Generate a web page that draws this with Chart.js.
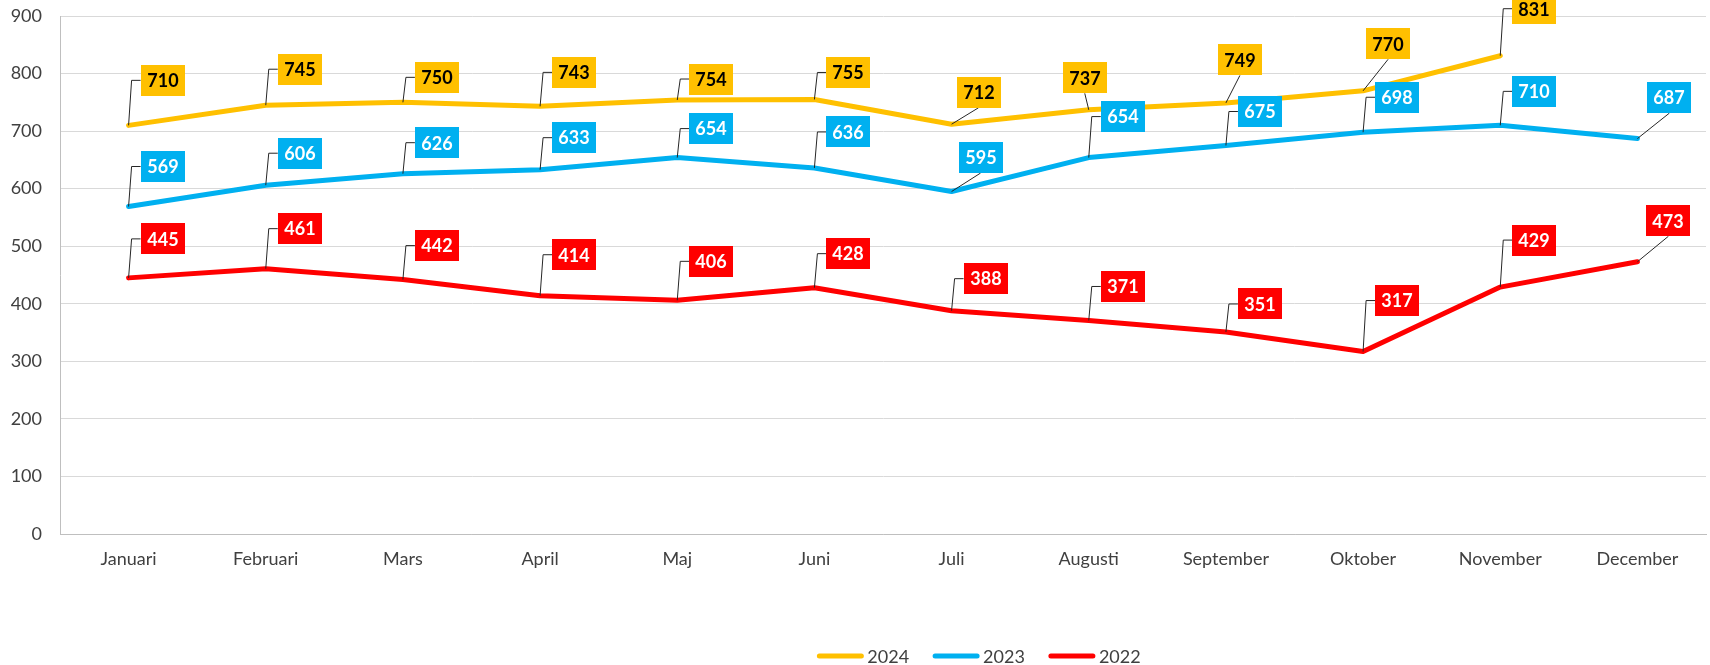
<!DOCTYPE html>
<html>
<head>
<meta charset="utf-8">
<script src="https://cdn.jsdelivr.net/npm/chart.js@4.4.0/dist/chart.umd.min.js"></script>
<style>
    html, body { margin: 0; padding: 0; background: #fff; }
    canvas { display: block; }
</style>
</head>
<body>
<canvas id="chart" width="1710" height="665"></canvas>
<script>
// Chart data
const months = ['Januari', 'Februari', 'Mars', 'April', 'Maj', 'Juni',
    'Juli', 'Augusti', 'September', 'Oktober', 'November', 'December'];
const values2024 = [710, 745, 750, 743, 754, 755, 712, 737, 749, 770, 831, null];
const values2023 = [569, 606, 626, 633, 654, 636, 595, 654, 675, 698, 710, 687];
const values2022 = [445, 461, 442, 414, 406, 428, 388, 371, 351, 317, 429, 473];
const yMin = 0;
const yMax = 900;
const yStep = 100;

// Callout placement relative to each point:
// a number = box centre dy with an elbow leader, [dx, dy] = box centre with a straight leader
const calloutOffsets = {
    '2024': [-45, -36, -25, -34, -21, -27, [27, -32], [-4, -32], [14, -43], [25, -47], -47, null],
    '2023': [-40, -32, -31, -32, -29, -36, [29, -34], -41, -34, -35, -34, [32, -41]],
    '2022': [-39, -40, -34, -41, -39, -34, -32, -34, -28, -51, -47, [31, -41]]
};

const FONT = 'Lato, "Open Sans", sans-serif';
const TEXT_COLOR = '#404040';

const calloutPlugin = {
    id: 'callouts',
    afterDatasetsDraw(chart) {
        const ctx = chart.ctx;
        ctx.save();
        ctx.font = 'bold 18px ' + FONT;
        ctx.textAlign = 'center';
        ctx.textBaseline = 'middle';
        chart.data.datasets.forEach((ds, di) => {
            const meta = chart.getDatasetMeta(di);
            const offs = calloutOffsets[ds.label];
            meta.data.forEach((pt, i) => {
                const v = ds.data[i];
                if (v == null || offs[i] == null) return;
                const text = String(v);
                const w = Math.round(ctx.measureText(text).width) + 13;
                const h = 31;
                const o = offs[i];
                let bx, cy;
                ctx.strokeStyle = '#262626';
                ctx.lineWidth = 1;
                ctx.beginPath();
                if (Array.isArray(o)) {
                    const cx = pt.x + o[0];
                    cy = pt.y + o[1];
                    bx = cx - w / 2;
                    ctx.moveTo(pt.x, pt.y);
                    ctx.lineTo(cx, cy + h / 2);
                } else {
                    cy = pt.y + o;
                    bx = pt.x + 12;
                    ctx.moveTo(pt.x, pt.y);
                    ctx.lineTo(pt.x + 3, cy);
                    ctx.lineTo(bx, cy);
                }
                ctx.stroke();
                ctx.fillStyle = ds.borderColor;
                ctx.fillRect(Math.round(bx), Math.round(cy - h / 2), w, h);
                ctx.fillStyle = ds.calloutText;
                ctx.fillText(text, Math.round(bx) + w / 2, cy + 1);
            });
        });
        ctx.restore();
    }
};

const legendPlugin = {
    id: 'bottomLegend',
    afterDraw(chart) {
        const ctx = chart.ctx;
        const centerX = 979;
        const y = 656;
        const lineLen = 46;
        ctx.save();
        ctx.font = '18px ' + FONT;
        ctx.textBaseline = 'middle';
        const items = chart.data.datasets.map(ds => ({
            label: ds.label,
            color: ds.borderColor,
            w: ctx.measureText(ds.label).width
        }));
        const total = items.reduce((s, it) => s + lineLen + 4 + it.w, 0) + 24 * (items.length - 1);
        let x = centerX - total / 2;
        items.forEach(it => {
            ctx.strokeStyle = it.color;
            ctx.lineWidth = 5;
            ctx.lineCap = 'round';
            ctx.beginPath();
            ctx.moveTo(x + 2, y);
            ctx.lineTo(x + lineLen - 2, y);
            ctx.stroke();
            ctx.fillStyle = TEXT_COLOR;
            ctx.fillText(it.label, x + lineLen + 4, y + 1);
            x += lineLen + 4 + it.w + 24;
        });
        ctx.restore();
    }
};

function lineSeries(label, data, color, textColor) {
    return {
        label: label,
        data: data,
        borderColor: color,
        backgroundColor: color,
        calloutText: textColor,
        borderWidth: 5,
        pointRadius: 0,
        pointHoverRadius: 0,
        tension: 0,
        borderJoinStyle: 'round',
        borderCapStyle: 'round',
        fill: false
    };
}

function draw() {
    new Chart(document.getElementById('chart'), {
        type: 'line',
        data: {
            labels: months,
            datasets: [
                lineSeries('2024', values2024, '#FFC000', '#000000'),
                lineSeries('2023', values2023, '#00B0F0', '#FFFFFF'),
                lineSeries('2022', values2022, '#FF0000', '#FFFFFF')
            ]
        },
        options: {
            responsive: false,
            animation: false,
            layout: { padding: { top: 16, right: 4, left: 0, bottom: 0 } },
            plugins: {
                legend: { display: false },
                tooltip: { enabled: false }
            },
            scales: {
                x: {
                    offset: true,
                    grid: { display: false, drawTicks: false },
                    border: { display: true, color: '#BFBFBF', width: 1 },
                    ticks: {
                        color: TEXT_COLOR,
                        font: { family: FONT, size: 18 },
                        padding: 14,
                        maxRotation: 0,
                        autoSkip: false
                    },
                    afterFit(scale) { scale.height = 131; }
                },
                y: {
                    min: yMin,
                    max: yMax,
                    grid: { color: '#D9D9D9', drawTicks: false },
                    border: { display: true, color: '#BFBFBF', width: 1 },
                    ticks: {
                        stepSize: yStep,
                        color: TEXT_COLOR,
                        font: { family: FONT, size: 18 },
                        padding: 18
                    },
                    afterFit(scale) {
                        scale.width = 60;
                        scale.paddingTop = 0;
                        scale.paddingBottom = 0;
                    }
                }
            }
        },
        plugins: [calloutPlugin, legendPlugin]
    });
}

Promise.all([
    document.fonts.load('18px Lato'),
    document.fonts.load('bold 18px Lato')
]).then(draw, draw);
</script>
</body>
</html>
